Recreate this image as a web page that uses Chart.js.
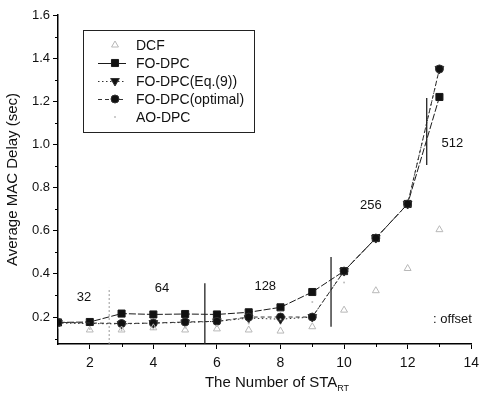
<!DOCTYPE html>
<html>
<head>
<meta charset="utf-8">
<script src="https://cdn.jsdelivr.net/npm/chart.js@4.4.0/dist/chart.umd.min.js"></script>
<style>
  html, body { margin: 0; padding: 0; background: #fff; }
</style>
</head>
<body>
<canvas id="chart-js" width="485" height="396"></canvas>
<script>
// data //
const staCount = [1, 2, 3, 4, 5, 6, 7, 8, 9, 10, 11, 12, 13];
const dcfDelay = [null, 0.14, 0.14, 0.15, 0.14, 0.145, 0.14, 0.135, 0.155, 0.232, 0.322, 0.425, 0.605];
const foDpcDelay = [0.175, 0.177, 0.216, 0.212, 0.214, 0.212, 0.222, 0.245, 0.316, 0.413, 0.566, 0.724, 1.22];
const foDpcEq9Delay = [0.172, null, 0.168, 0.172, 0.175, 0.18, 0.195, 0.19, 0.2, 0.413, 0.566, 0.724, 1.35];
const foDpcOptDelay = [0.175, null, 0.17, 0.172, 0.177, 0.18, 0.2, 0.2, 0.2, 0.413, 0.566, 0.724, 1.35];
const aoDpcDelay = [0.15, 0.145, 0.14, 0.145, 0.15, 0.16, 0.17, 0.19, 0.27, 0.36, null, null, null];

const xTicks = [2, 4, 6, 8, 10, 12, 14];
const yTicks = [0.2, 0.4, 0.6, 0.8, 1.0, 1.2, 1.4, 1.6];
const legendOrder = ["DCF", "FO-DPC", "FO-DPC(Eq.(9))", "FO-DPC(optimal)", "AO-DPC"];

// offset window boundaries and labels //
const boundaryX = [2.61, 5.62, 9.59, 12.6];
const boundaryFrom = [0.075, 0.075, 0.155, 0.905];
const boundaryTo = [0.335, 0.357, 0.478, 1.215];
const offsetLabels = ["32", "64", "128", "256", "512", ": offset"];
const offsetLabelX = [1.82, 4.27, 7.52, 10.84, 13.41, 13.41];
const offsetLabelY = [0.293, 0.334, 0.344, 0.719, 1.007, 0.19];

const FONT = "'Liberation Sans', Arial, sans-serif";

function toPoints(values) {
  return staCount.map((x, i) => ({ x: x, y: values[i] }));
}

// later datasets are drawn on top //
const datasets = [
  {
    label: "DCF",
    data: toPoints(dcfDelay),
    showLine: false,
    pointStyle: "triangle",
    pointRadius: 4,
    borderColor: "#b8b8b8",
    backgroundColor: "rgba(255,255,255,0)",
    borderWidth: 1,
  },
  {
    label: "AO-DPC",
    data: toPoints(aoDpcDelay),
    showLine: false,
    pointStyle: "circle",
    pointRadius: 1,
    borderColor: "#bdbdbd",
    backgroundColor: "#bdbdbd",
    borderWidth: 0,
  },
  {
    label: "FO-DPC(optimal)",
    data: toPoints(foDpcOptDelay),
    showLine: true,
    spanGaps: true,
    pointStyle: "circle",
    pointRadius: 4,
    borderColor: "#333",
    backgroundColor: "#111",
    borderWidth: 1,
    borderDash: [4, 3],
  },
  {
    label: "FO-DPC",
    data: toPoints(foDpcDelay),
    showLine: true,
    spanGaps: true,
    pointStyle: "rect",
    pointRadius: 5,
    borderColor: "#1a1a1a",
    backgroundColor: "#111",
    borderWidth: 1,
    borderDash: [7, 2],
  },
  {
    label: "FO-DPC(Eq.(9))",
    data: toPoints(foDpcEq9Delay),
    showLine: true,
    spanGaps: true,
    pointStyle: "triangle",
    rotation: 180,
    pointRadius: 5,
    borderColor: "#333",
    backgroundColor: "#111",
    borderWidth: 1,
    borderDash: [1.5, 2.5],
  },
];

// Legend, annotations, minor ticks and subscripted x title //
const figurePlugin = {
  id: "figureExtras",
  afterDatasetsDraw(chart) {
    const ctx = chart.ctx;
    const xs = chart.scales.x;
    const ys = chart.scales.y;

    ctx.save();
    // boundary lines
    boundaryX.forEach((bx, i) => {
      const px = xs.getPixelForValue(bx);
      ctx.beginPath();
      ctx.lineWidth = i === 0 ? 1 : 1.3;
      ctx.strokeStyle = i === 0 ? "#999" : "#222";
      ctx.setLineDash(i === 0 ? [2, 2] : []);
      ctx.moveTo(px, ys.getPixelForValue(boundaryFrom[i]));
      ctx.lineTo(px, ys.getPixelForValue(boundaryTo[i]));
      ctx.stroke();
    });
    ctx.setLineDash([]);

    // window size labels
    ctx.fillStyle = "#111";
    ctx.font = "13px " + FONT;
    ctx.textAlign = "center";
    ctx.textBaseline = "middle";
    offsetLabels.forEach((t, i) => {
      ctx.fillText(t, xs.getPixelForValue(offsetLabelX[i]), ys.getPixelForValue(offsetLabelY[i]));
    });

    // minor ticks
    ctx.strokeStyle = "#000";
    ctx.lineWidth = 1;
    for (let v = 0.1; v < 1.6; v += 0.2) {
      if (v < ys.min) continue;
      const py = Math.round(ys.getPixelForValue(v)) + 0.5;
      ctx.beginPath();
      ctx.moveTo(chart.chartArea.left - 3, py);
      ctx.lineTo(chart.chartArea.left, py);
      ctx.stroke();
    }
    for (let v = 3; v < 14; v += 2) {
      const px = Math.round(xs.getPixelForValue(v)) + 0.5;
      ctx.beginPath();
      ctx.moveTo(px, chart.chartArea.bottom);
      ctx.lineTo(px, chart.chartArea.bottom + 3);
      ctx.stroke();
    }

    // legend box
    const lx = 83, ly = 30, lw = 171, lh = 102;
    ctx.fillStyle = "#fff";
    ctx.fillRect(lx, ly, lw, lh);
    ctx.strokeStyle = "#222";
    ctx.lineWidth = 1;
    ctx.strokeRect(lx + 0.5, ly + 0.5, lw, lh);

    legendOrder.forEach((name, i) => {
      const ds = chart.data.datasets.find((d) => d.label === name);
      const cy = 45 + i * 18;
      if (ds.showLine) {
        ctx.beginPath();
        ctx.strokeStyle = ds.borderColor;
        ctx.lineWidth = 1;
        ctx.setLineDash(name === "FO-DPC" ? [] : ds.borderDash);
        ctx.moveTo(98, cy + 0.5);
        ctx.lineTo(126, cy + 0.5);
        ctx.stroke();
        ctx.setLineDash([]);
      }
      ctx.fillStyle = ds.backgroundColor;
      ctx.strokeStyle = ds.borderColor;
      ctx.lineWidth = ds.borderWidth;
      Chart.helpers.drawPoint(ctx, {
        pointStyle: ds.pointStyle,
        rotation: ds.rotation || 0,
        radius: ds.pointRadius,
        borderWidth: ds.borderWidth,
      }, 115, cy);
      ctx.fillStyle = "#111";
      ctx.font = "14px " + FONT;
      ctx.textAlign = "left";
      ctx.textBaseline = "middle";
      ctx.fillText(ds.label, 136, cy + 1);
    });

    // x axis title with subscript
    ctx.fillStyle = "#111";
    ctx.textBaseline = "alphabetic";
    ctx.font = "15px " + FONT;
    const main = "The Number of STA";
    const w1 = ctx.measureText(main).width;
    ctx.font = "9px " + FONT;
    const w2 = ctx.measureText("RT").width;
    const startX = 277 - (w1 + w2) / 2;
    ctx.font = "15px " + FONT;
    ctx.fillText(main, startX, 387);
    ctx.font = "9px " + FONT;
    ctx.fillText("RT", startX + w1, 391);
    ctx.restore();
  },
};

const ctx = document.getElementById("chart-js").getContext("2d");

new Chart(ctx, {
  type: "scatter",
  data: { datasets: datasets },
  options: {
    responsive: false,
    animation: false,
    layout: { padding: { top: 15, right: 8, left: 0, bottom: 0 } },
    plugins: {
      legend: { display: false },
      tooltip: { enabled: false },
    },
    scales: {
      x: {
        type: "linear",
        min: 1,
        max: 14,
        afterBuildTicks: (s) => { s.ticks = xTicks.map((v) => ({ value: v })); },
        afterFit: (s) => { s.height = 52; },
        ticks: {
          color: "#111",
          font: { family: FONT, size: 14 },
          padding: 6,
          maxRotation: 0,
          callback: (v) => String(v),
        },
        grid: { drawOnChartArea: false, drawTicks: true, tickLength: 5, color: "#000" },
        border: { display: true, color: "#000", width: 1.5 },
        title: { display: false },
      },
      y: {
        type: "linear",
        min: 0.075,
        max: 1.6,
        afterBuildTicks: (s) => { s.ticks = yTicks.map((v) => ({ value: v })); },
        afterFit: (s) => { s.width = 58; },
        ticks: {
          color: "#111",
          font: { family: FONT, size: 13 },
          padding: 3,
          callback: (v) => v.toFixed(1),
        },
        grid: { drawOnChartArea: false, drawTicks: true, tickLength: 5, color: "#000" },
        border: { display: true, color: "#000", width: 1.5 },
        title: {
          display: true,
          text: "Average MAC Delay (sec)",
          color: "#111",
          font: { family: FONT, size: 15 },
          padding: { top: 4, bottom: 2 },
        },
      },
    },
  },
  plugins: [figurePlugin],
});
</script>
</body>
</html>
